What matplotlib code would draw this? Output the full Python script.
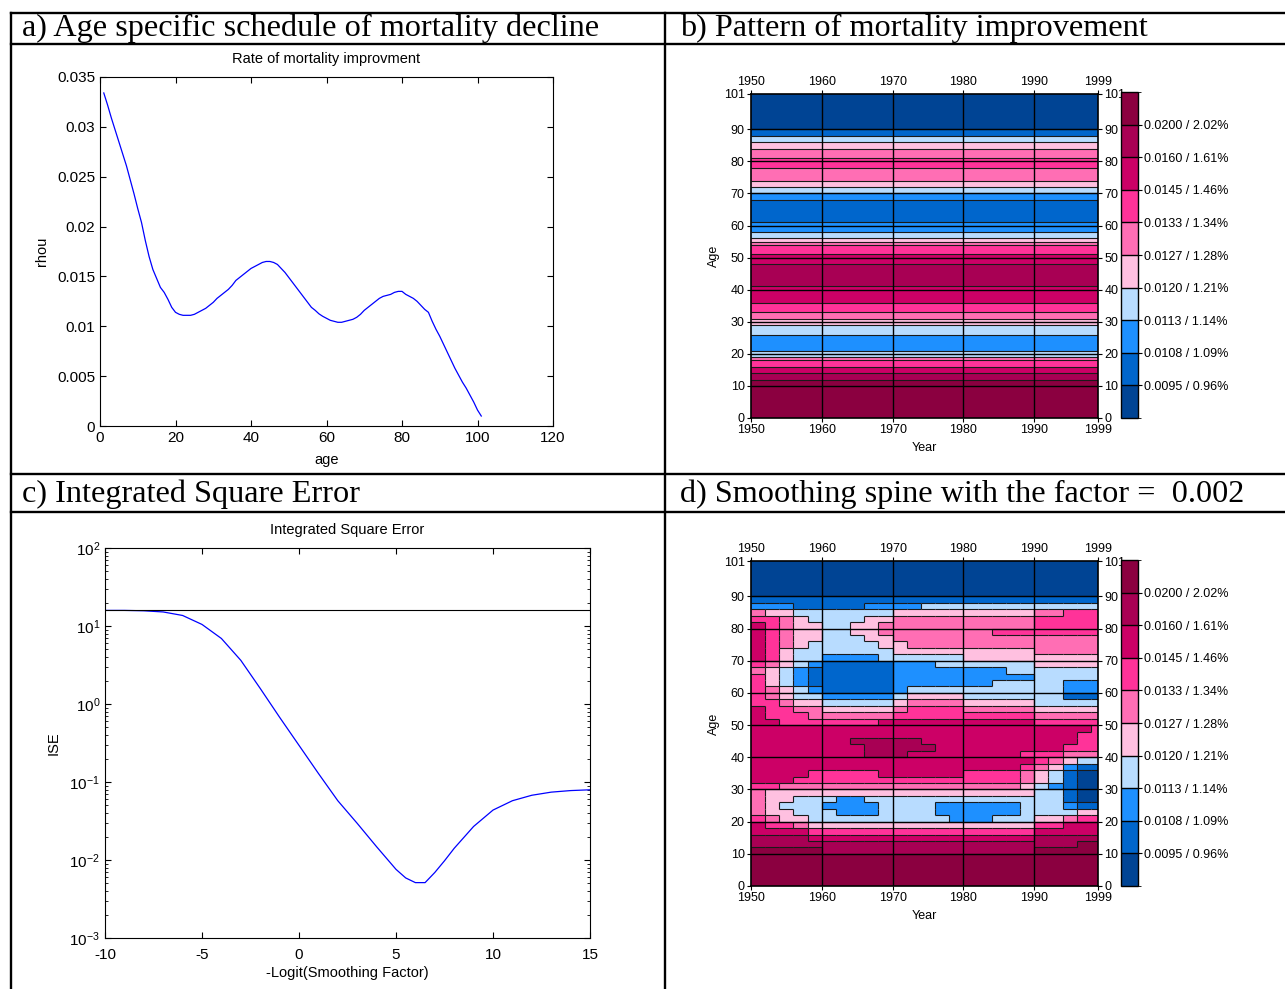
import numpy as np
import matplotlib
matplotlib.use('Agg')
import matplotlib.pyplot as plt
from matplotlib.colors import ListedColormap, BoundaryNorm
from matplotlib.collections import LineCollection
from matplotlib.lines import Line2D
import matplotlib.colorbar as mcolorbar
import matplotlib.ticker as mticker

plt.rcParams['font.family'] = ['Liberation Sans', 'DejaVu Sans']
plt.rcParams['mathtext.fontset'] = 'custom'
plt.rcParams['mathtext.rm'] = 'Liberation Sans'
plt.rcParams['mathtext.it'] = 'Liberation Sans:italic'
plt.rcParams['mathtext.bf'] = 'Liberation Sans:bold'
plt.rcParams['axes.unicode_minus'] = False

# ---------------- data ----------------
# a) rate of mortality improvement, plotted at x = 1..101
rho = [0.0334, 0.0322, 0.0309, 0.0297, 0.0285, 0.0273, 0.0261, 0.0247, 0.0233, 0.0218,
       0.0204, 0.0186, 0.0170, 0.0157, 0.0148, 0.0139, 0.0134, 0.0127, 0.0119, 0.0114,
       0.0112, 0.0111, 0.0111, 0.0111, 0.0112, 0.0114, 0.0116, 0.0118, 0.0121, 0.0124,
       0.0128, 0.0131, 0.0134, 0.0137, 0.0141, 0.0146, 0.0149, 0.0152, 0.0155, 0.0158,
       0.0160, 0.0162, 0.0164, 0.0165, 0.0165, 0.0164, 0.0162, 0.0158, 0.0154, 0.0149,
       0.0144, 0.0139, 0.0134, 0.0129, 0.0124, 0.0119, 0.0116, 0.01125, 0.0110, 0.0108,
       0.0106, 0.0105, 0.0104, 0.0104, 0.0105, 0.0106, 0.0107, 0.0109, 0.0112, 0.0116,
       0.0119, 0.0122, 0.0125, 0.0128, 0.0130, 0.0131, 0.0132, 0.0134, 0.0135, 0.0135,
       0.0132, 0.0130, 0.0128, 0.0125, 0.0121, 0.0117, 0.0114, 0.0105, 0.0097, 0.0090,
       0.0082, 0.0074, 0.0066, 0.0058, 0.0051, 0.0044, 0.0038, 0.0031, 0.0024, 0.0016,
       0.0010]
rho_x = list(range(1, 102))

# c) integrated square error
ise_x = [-10, -9, -8, -7, -6, -5, -4, -3, -2, -1, 0, 1, 2, 3, 4, 5, 5.5, 6, 6.5, 7,
         7.5, 8, 9, 10, 11, 12, 13, 14, 15]
ise_log10 = [1.20, 1.20, 1.195, 1.18, 1.135, 1.02, 0.84, 0.56, 0.20, -0.17, -0.53, -0.89,
             -1.24, -1.53, -1.83, -2.12, -2.23, -2.29, -2.29, -2.16, -2.01, -1.85, -1.57,
             -1.36, -1.24, -1.17, -1.13, -1.11, -1.10]
ise_ref = 16.0

# colour classes (b, d)
level_bounds = [0.0095, 0.0108, 0.0113, 0.0120, 0.0127, 0.0133, 0.0145, 0.0160, 0.0200]
level_labels = ['0.0095 / 0.96%', '0.0108 / 1.09%', '0.0113 / 1.14%', '0.0120 / 1.21%',
                '0.0127 / 1.28%', '0.0133 / 1.34%', '0.0145 / 1.46%', '0.0160 / 1.61%',
                '0.0200 / 2.02%']
class_colors = ['#004494', '#0066CC', '#1E90FF', '#B8DCFF', '#FFC0E0',
                '#FF6EB4', '#FF3399', '#CC0066', '#A80054', '#8B0040']

year_ticks = [1950, 1960, 1970, 1980, 1990, 1999]
age_ticks = [0, 10, 20, 30, 40, 50, 60, 70, 80, 90, 101]

# d) smoothed pattern: class index per (2-year age band, 2-year column); top row = oldest
d_years = [1950, 1952, 1954, 1956, 1958, 1960, 1962, 1964, 1966, 1968, 1970, 1972, 1974,
           1976, 1978, 1980, 1982, 1984, 1986, 1988, 1990, 1992, 1994, 1996, 1998, 1999]
d_ages = [0, 2, 4, 6, 8, 10, 12, 14, 16, 18, 20, 22, 24, 26, 28, 30, 32, 34, 36, 38, 40,
          42, 44, 46, 48, 50, 52, 54, 56, 58, 60, 62, 64, 66, 68, 70, 72, 74, 76, 78, 80,
          82, 84, 86, 88, 90, 92, 94, 96, 98, 100, 101]
d_rows = [
    "0000000000000000000000000",  # 100-101
    "0000000000000000000000000",  # 98
    "0000000000000000000000000",  # 96
    "0000000000000000000000000",  # 94
    "0000000000000000000000000",  # 92
    "0000000000000000000000000",  # 90
    "1111111111111111111111111",  # 88
    "2221111122223333333333333",  # 86
    "5443333333444444444455666",  # 84
    "6654333344555555555566666",  # 82
    "7654433445555555555566666",  # 80
    "7654433445555555566666666",  # 78
    "7654433344555555555555555",  # 76
    "7654333334455555555555555",  # 74
    "7643333333444444444455555",  # 72
    "7643322223333334444444444",  # 70
    "6543211111222333333344444",  # 68
    "5432111111222222223333333",  # 66
    "6432111111222222222233333",  # 64
    "6432111111222222233333222",  # 62
    "6543211111233333333333222",  # 60
    "6543322222344443333333111",  # 58
    "6654433333455554444433333",  # 56
    "7665544444566665555544444",  # 54
    "7666555555666666666655555",  # 52
    "7766666667777777777766666",  # 50
    "7777777777777777777777776",  # 48
    "7777777777777777777777766",  # 46
    "7777777888887777777777766",  # 44
    "7777777788888777777777666",  # 42
    "7777777788877777777666555",  # 40
    "7777777777777777777765433",  # 38
    "7777777777777777777654211",  # 36
    "7777666667777776666543100",  # 34
    "7776666666666666666543100",  # 32
    "6655555555555555555432100",  # 30
    "5444444444444444444433100",  # 28
    "5443332233333333333333100",  # 26
    "5433322223333222222333211",  # 24
    "5443332223333222222333344",  # 22
    "6544333333333322233344566",  # 20
    "7665444444444444444466777",  # 18
    "7777666666666666666677777",  # 16
    "8888777777777777777788888",  # 14
    "8888888888888888888888899",  # 12
    "9999988888888888888899999",  # 10
    "9999999999999999999999999",  # 8
    "9999999999999999999999999",  # 6
    "9999999999999999999999999",  # 4
    "9999999999999999999999999",  # 2
    "9999999999999999999999999",  # 0
]

# ---------------- figure ----------------
W, H = 1285, 989
fig = plt.figure(figsize=(W / 100, H / 100), dpi=100)


def add_ax(l, t, r, b):
    return fig.add_axes([l / W, 1 - b / H, (r - l) / W, (b - t) / H])


cmap = ListedColormap(class_colors)
cnorm = BoundaryNorm(np.arange(-0.5, 10.5, 1), cmap.N)

# ---- table frame ----
lw_tab = 1.7
for y in [13, 44, 474, 512]:
    fig.add_artist(Line2D([11 / W, 1.0], [1 - y / H, 1 - y / H], color='k', lw=lw_tab,
                          transform=fig.transFigure))
for x in [11, 665]:
    fig.add_artist(Line2D([x / W, x / W], [1 - 13 / H, 0.0], color='k', lw=lw_tab,
                          transform=fig.transFigure))

headers = [(22, 28, 'a) Age specific schedule of mortality decline'),
           (680, 28, 'b) Pattern of mortality improvement'),
           (22, 494, 'c) Integrated Square Error'),
           (680, 494, 'd) Smoothing spine with the factor =  0.002')]
htexts = []
for x, y, s in headers:
    htexts.append(fig.text(x / W, 1 - y / H, s, family=['Liberation Serif', 'DejaVu Serif'],
                           fontsize=21, ha='left', va='center'))
fig.canvas.draw()
rend = fig.canvas.get_renderer()
wa = htexts[0].get_window_extent(rend).width
fs = 21 * 576.0 / wa
for t in htexts:
    t.set_fontsize(fs)

# ---- panel a ----
axa = add_ax(100, 77, 553, 426)
axa.plot(rho_x, rho, color='#0000FF', lw=0.9)
axa.set_xlim(0, 120)
axa.set_ylim(0, 0.035)
axa.set_xticks([0, 20, 40, 60, 80, 100, 120])
axa.set_yticks([0, 0.005, 0.01, 0.015, 0.02, 0.025, 0.03, 0.035])
axa.yaxis.set_major_formatter(mticker.FuncFormatter(lambda v, p: '%g' % round(v, 4)))
axa.tick_params(direction='in', top=True, right=True, labelsize=11, length=4)
axa.set_title('Rate of mortality improvment', fontsize=10.5, pad=10)
axa.set_xlabel('age', fontsize=10.5, labelpad=6)
axa.set_ylabel('rhou', fontsize=10.5, labelpad=6)


# ---- heat panels ----
def heat(ax, xedges, yedges, C):
    ax.pcolormesh(xedges, yedges, C, cmap=cmap, norm=cnorm, shading='flat')
    segs = []
    nr, nc = C.shape
    for i in range(nr):
        for j in range(nc - 1):
            if C[i, j] != C[i, j + 1]:
                segs.append([(xedges[j + 1], yedges[i]), (xedges[j + 1], yedges[i + 1])])
    for i in range(nr - 1):
        for j in range(nc):
            if C[i, j] != C[i + 1, j]:
                segs.append([(xedges[j], yedges[i + 1]), (xedges[j + 1], yedges[i + 1])])
    ax.add_collection(LineCollection(segs, colors='#1a1a1a', linewidths=0.8))
    for yv in age_ticks[1:-1]:
        ax.axhline(yv, color='k', lw=1)
    for xv in year_ticks[1:-1]:
        ax.axvline(xv, color='k', lw=1)
    ax.set_xlim(1950, 1999)
    ax.set_ylim(0, 101)
    ax.set_xticks(year_ticks)
    ax.set_yticks(age_ticks)
    ax.tick_params(direction='out', length=3, labelsize=9, top=True, right=True,
                   labeltop=True, labelright=True, pad=1.5)
    ax.set_xlabel('Year', fontsize=9, labelpad=4)
    ax.set_ylabel('Age', fontsize=9, labelpad=3)
    for s in ax.spines.values():
        s.set_linewidth(1.2)


def cbar(cax):
    cb = mcolorbar.ColorbarBase(cax, cmap=cmap, norm=cnorm,
                                boundaries=np.arange(-0.5, 10.5, 1),
                                ticks=np.arange(0.5, 9.5, 1), drawedges=True)
    cb.set_ticklabels(level_labels)
    cb.outline.set_linewidth(1)
    cb.dividers.set_linewidth(1)
    cax.tick_params(labelsize=9, length=3, direction='out', pad=1.5)
    return cb


# b) age pattern constant over years: value at x fills the band [x, x+1]
rho_arr = np.array(rho)
b_class = np.digitize(rho_arr, level_bounds).reshape(-1, 1)
b_yedges = np.concatenate([[0], np.array(rho_x[1:]), [rho_x[-1] + 1]])
b_xedges = np.array([1950, 1999])
axb = add_ax(751, 94, 1098, 418)
heat(axb, b_xedges, b_yedges, b_class)
cbar(add_ax(1121, 92, 1138, 418))

# d) smoothed pattern
rows = [(r + r[-1] * 25)[:25] for r in d_rows]
d_class = np.array([[int(ch) for ch in r] for r in rows[::-1]])
axd = add_ax(751, 561, 1098, 886)
heat(axd, np.array(d_years), np.array(d_ages), d_class)
cbar(add_ax(1121, 560, 1138, 886))

# ---- panel c ----
axc = add_ax(105, 548, 590, 938)
axc.plot(ise_x, 10 ** np.array(ise_log10), color='#0000FF', lw=0.9)
axc.axhline(ise_ref, color='k', lw=0.8)
axc.set_yscale('log')
axc.set_xlim(-10, 15)
axc.set_ylim(1e-3, 1e2)
axc.set_xticks([-10, -5, 0, 5, 10, 15])
axc.yaxis.set_major_locator(mticker.LogLocator(base=10, numticks=10))
axc.yaxis.set_minor_locator(mticker.LogLocator(base=10, subs=np.arange(2, 10), numticks=20))
axc.yaxis.set_minor_formatter(mticker.NullFormatter())
axc.tick_params(which='both', direction='in', top=True, right=True, labelsize=11)
axc.tick_params(which='major', length=4)
axc.tick_params(which='minor', length=2)
axc.tick_params(axis='x', pad=7)
axc.set_title('Integrated Square Error', fontsize=10.5, pad=10)
axc.set_xlabel('-Logit(Smoothing Factor)', fontsize=10.5, labelpad=3)
axc.set_ylabel('ISE', fontsize=10.5, labelpad=6)

fig.savefig('out.png', dpi=100)
